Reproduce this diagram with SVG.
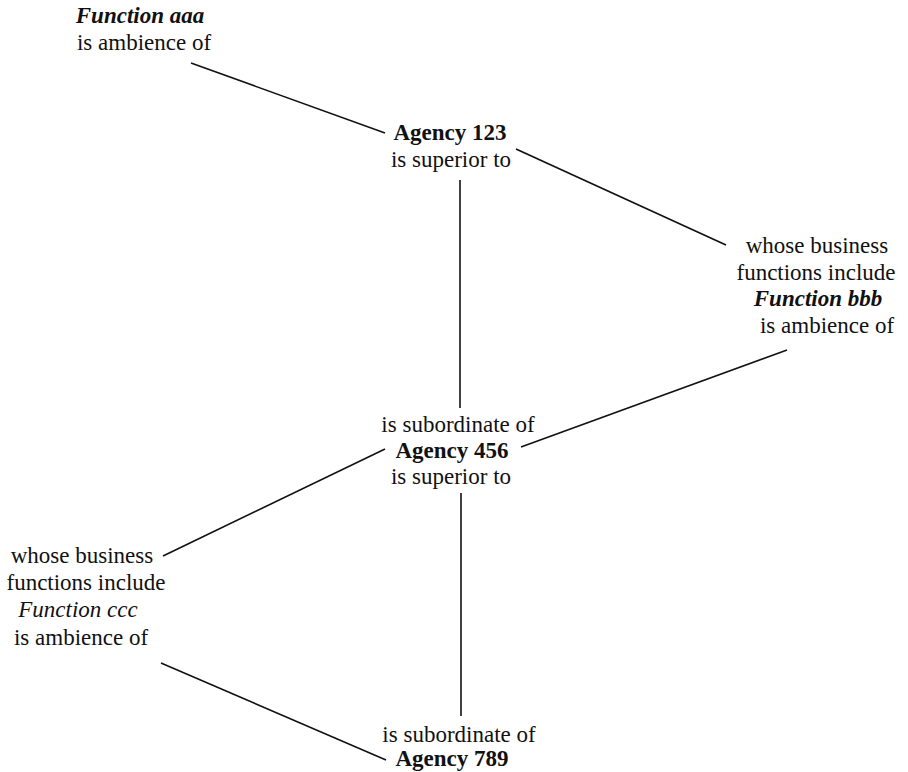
<svg xmlns="http://www.w3.org/2000/svg" width="908" height="772" viewBox="0 0 908 772">
<style>
text{font-family:"Liberation Serif","Times New Roman","DejaVu Serif",serif;font-size:23px;fill:#111;text-anchor:middle}
.b{font-weight:bold}
.bi{font-weight:bold;font-style:italic}
.i{font-style:italic}
.c line{stroke:#111;stroke-width:1.6;fill:none}
</style>
<rect width="908" height="772" fill="#fff"/>
<g class="c" id="connectors">
<line x1="191" y1="63" x2="385" y2="133"/>
<line x1="516" y1="149" x2="726" y2="245"/>
<line x1="460" y1="180" x2="460" y2="408"/>
<line x1="787" y1="350" x2="521" y2="447"/>
<line x1="385" y1="449" x2="163" y2="556"/>
<line x1="461" y1="493" x2="461" y2="716"/>
<line x1="161" y1="663" x2="386" y2="760"/>
</g>
<g id="faaa">
<text x="140" y="23" class="bi" font-family="Liberation Serif, serif">Function aaa</text>
<text x="144" y="50" font-family="Liberation Serif, serif">is ambience of</text>
</g>
<g id="a123">
<text x="450" y="140" class="b" font-family="Liberation Serif, serif">Agency 123</text>
<text x="451" y="167" font-family="Liberation Serif, serif">is superior to</text>
</g>
<g id="fbbb">
<text x="817" y="253" font-family="Liberation Serif, serif">whose business</text>
<text x="816" y="280" font-family="Liberation Serif, serif">functions include</text>
<text x="818" y="306" class="bi" font-family="Liberation Serif, serif">Function bbb</text>
<text x="827" y="333" font-family="Liberation Serif, serif">is ambience of</text>
</g>
<g id="a456">
<text x="458" y="432" font-family="Liberation Serif, serif">is subordinate of</text>
<text x="452" y="458" class="b" font-family="Liberation Serif, serif">Agency 456</text>
<text x="451" y="484" font-family="Liberation Serif, serif">is superior to</text>
</g>
<g id="fccc">
<text x="82" y="563" font-family="Liberation Serif, serif">whose business</text>
<text x="86" y="590" font-family="Liberation Serif, serif">functions include</text>
<text x="78" y="617" class="i" font-family="Liberation Serif, serif">Function ccc</text>
<text x="81" y="645" font-family="Liberation Serif, serif">is ambience of</text>
</g>
<g id="a789">
<text x="459" y="742" font-family="Liberation Serif, serif">is subordinate of</text>
<text x="452" y="766" class="b" font-family="Liberation Serif, serif">Agency 789</text>
</g>
</svg>
